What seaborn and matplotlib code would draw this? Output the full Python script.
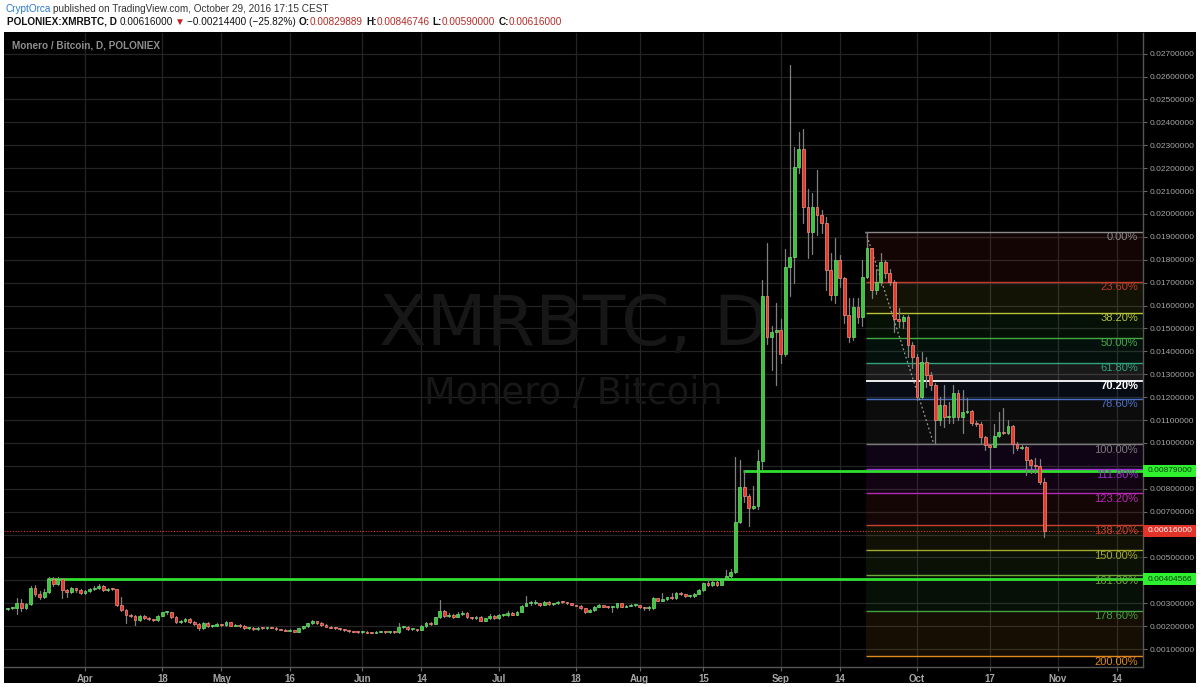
import numpy as np
import pandas as pd
import matplotlib
matplotlib.use("Agg")
import matplotlib.pyplot as plt
import matplotlib.dates as mdates
import matplotlib.transforms as mtransforms
from matplotlib.patches import Rectangle
from matplotlib.ticker import MultipleLocator, FuncFormatter
from matplotlib import font_manager as fm
import seaborn as sns

# ---------------- data (prices in mBTC, daily candles from 2016-03-15) ----------------
START = "2016-03-15"
SCALE = 1e-3

opens = [
    2.74, 2.78, 2.80, 2.99, 2.78, 2.95, 3.68, 3.39, 3.26, 3.47,
    4.05, 3.82, 4.05, 3.58, 3.50, 3.65, 3.56, 3.45, 3.53, 3.62,
    3.68, 3.77, 3.58, 3.62, 3.60, 2.92, 2.70, 2.49, 2.43, 2.27,
    2.46, 2.34, 2.30, 2.27, 2.46, 2.60, 2.60, 2.40, 2.19, 2.22,
    2.31, 2.19, 2.08, 1.90, 2.15, 2.00, 2.02, 2.08, 2.05, 2.16,
    2.02, 2.05, 2.02, 1.90, 1.93, 1.87, 1.93, 1.90, 1.95, 1.93,
    1.86, 1.84, 1.80, 1.83, 1.76, 1.90, 1.99, 2.12, 2.22, 2.13,
    2.05, 1.98, 1.93, 1.90, 1.86, 1.82, 1.77, 1.76, 1.74, 1.75,
    1.72, 1.71, 1.75, 1.76, 1.74, 1.75, 1.73, 1.95, 1.97, 1.86,
    1.86, 1.83, 2.00, 2.15, 2.09, 2.38, 2.67, 2.44, 2.48, 2.41,
    2.53, 2.59, 2.38, 2.34, 2.41, 2.24, 2.34, 2.45, 2.34, 2.48,
    2.48, 2.59, 2.50, 2.62, 2.88, 2.99, 2.99, 2.99, 2.92, 3.07,
    2.96, 2.99, 3.07, 3.04, 2.99, 2.92, 2.89, 2.78, 2.63, 2.70,
    2.85, 2.92, 2.85, 2.82, 2.82, 2.99, 2.85, 2.88, 2.92, 2.92,
    2.82, 2.78, 2.78, 3.21, 3.11, 3.17, 3.26, 3.21, 3.46, 3.39,
    3.31, 3.31, 3.40, 3.58, 3.87, 3.80, 3.94, 3.80, 4.06, 4.19,
    4.35, 6.56, 8.06, 7.68, 7.14, 7.24, 9.22, 16.41, 14.64, 14.86,
    14.93, 13.90, 17.70, 18.13, 22.03, 22.82, 20.29, 19.22, 20.32, 19.95,
    19.59, 17.55, 16.46, 18.00, 17.19, 15.58, 14.61, 15.92, 15.48, 17.26,
    18.50, 16.68, 17.04, 17.91, 17.40, 17.04, 15.40, 15.34, 15.51, 14.28,
    13.77, 11.99, 13.55, 12.97, 12.53, 11.00, 11.66, 11.15, 11.15, 12.17,
    11.12, 11.35, 11.41, 10.88, 10.83, 10.27, 9.91, 9.84, 10.30, 10.49,
    10.42, 10.74, 9.95, 9.76, 9.81, 9.25, 9.04, 8.99, 8.30,
]
highs = [
    2.80, 2.84, 3.24, 3.20, 3.02, 3.75, 3.78, 3.52, 3.60, 4.16,
    4.16, 4.16, 4.08, 3.62, 3.70, 3.68, 3.60, 3.58, 3.66, 3.77,
    3.82, 3.80, 3.66, 3.66, 3.63, 3.29, 2.74, 2.55, 2.47, 2.50,
    2.48, 2.38, 2.33, 2.50, 2.63, 2.66, 2.63, 2.43, 2.26, 2.35,
    2.34, 2.22, 2.12, 2.20, 2.18, 2.06, 2.12, 2.11, 2.21, 2.18,
    2.08, 2.07, 2.04, 1.96, 1.95, 1.96, 1.95, 1.98, 1.97, 1.95,
    1.88, 1.86, 1.86, 1.85, 1.93, 2.02, 2.15, 2.26, 2.24, 2.16,
    2.07, 2.00, 1.95, 1.92, 1.88, 1.84, 1.80, 1.78, 1.78, 1.77,
    1.75, 1.78, 1.79, 1.78, 1.77, 1.77, 2.15, 2.01, 1.99, 1.89,
    1.88, 2.03, 2.18, 2.17, 2.41, 3.14, 2.70, 2.58, 2.55, 2.62,
    2.65, 2.61, 2.40, 2.44, 2.43, 2.37, 2.55, 2.47, 2.51, 2.53,
    2.68, 2.61, 2.65, 2.91, 3.31, 3.10, 3.14, 3.02, 3.10, 3.09,
    3.03, 3.10, 3.09, 3.06, 3.01, 2.94, 2.91, 2.80, 2.73, 2.88,
    2.95, 2.94, 2.87, 2.86, 3.02, 3.01, 2.91, 2.95, 2.95, 2.94,
    2.84, 2.86, 3.25, 3.23, 3.43, 3.29, 3.43, 3.49, 3.50, 3.41,
    3.35, 3.43, 3.62, 3.90, 4.09, 4.09, 3.97, 4.10, 4.45, 4.48,
    9.37, 9.25, 8.82, 7.75, 8.12, 9.69, 17.10, 18.74, 15.10, 16.09,
    15.40, 18.45, 26.50, 22.90, 23.59, 23.69, 21.10, 20.93, 21.92, 20.17,
    19.88, 18.28, 18.93, 18.20, 17.26, 16.31, 16.31, 16.31, 17.99, 19.22,
    18.50, 17.60, 18.30, 18.00, 17.60, 17.10, 15.88, 15.60, 15.60, 14.40,
    13.90, 13.98, 13.77, 13.10, 12.60, 12.02, 12.53, 11.80, 12.53, 12.31,
    12.31, 11.95, 11.44, 10.95, 10.90, 10.30, 9.95, 10.83, 11.37, 11.51,
    11.00, 10.80, 10.02, 9.90, 9.85, 9.30, 9.33, 9.28, 8.47,
]
lows = [
    2.70, 2.74, 2.51, 2.66, 2.74, 2.92, 3.30, 3.18, 3.22, 3.44,
    3.74, 3.78, 3.21, 3.29, 3.45, 3.50, 3.40, 3.42, 3.50, 3.58,
    3.64, 3.52, 3.54, 3.56, 2.88, 2.64, 2.12, 2.38, 2.05, 2.22,
    2.30, 2.26, 2.22, 2.24, 2.42, 2.55, 2.36, 2.14, 2.15, 2.18,
    2.15, 2.04, 1.83, 1.88, 1.96, 1.97, 1.99, 2.01, 2.02, 1.99,
    1.99, 1.98, 1.87, 1.87, 1.84, 1.85, 1.87, 1.88, 1.90, 1.83,
    1.81, 1.77, 1.78, 1.73, 1.74, 1.88, 1.97, 2.10, 2.10, 2.02,
    1.95, 1.90, 1.87, 1.83, 1.79, 1.74, 1.73, 1.71, 1.72, 1.69,
    1.68, 1.70, 1.73, 1.72, 1.72, 1.71, 1.72, 1.92, 1.84, 1.83,
    1.80, 1.81, 1.98, 2.05, 2.07, 2.35, 2.38, 2.40, 2.37, 2.39,
    2.50, 2.35, 2.29, 2.32, 2.21, 2.22, 2.32, 2.31, 2.32, 2.45,
    2.46, 2.47, 2.48, 2.60, 2.86, 2.94, 2.95, 2.89, 2.90, 2.93,
    2.94, 2.97, 3.01, 2.96, 2.90, 2.86, 2.75, 2.58, 2.60, 2.68,
    2.83, 2.82, 2.79, 2.63, 2.80, 2.82, 2.83, 2.86, 2.89, 2.79,
    2.70, 2.70, 2.76, 3.08, 3.09, 3.15, 3.18, 3.19, 3.36, 3.28,
    3.27, 3.29, 3.38, 3.55, 3.76, 3.77, 3.76, 3.78, 4.04, 4.15,
    4.30, 6.49, 7.43, 6.37, 7.10, 7.10, 8.85, 14.30, 13.20, 12.53,
    13.50, 13.80, 16.40, 17.00, 21.80, 19.59, 18.06, 18.25, 19.08, 19.15,
    16.68, 16.24, 16.10, 16.80, 15.22, 14.42, 14.50, 15.22, 15.10, 17.20,
    16.31, 16.50, 16.90, 17.20, 16.90, 14.86, 15.05, 15.00, 13.77, 13.26,
    11.87, 11.95, 12.46, 12.31, 9.95, 10.78, 10.71, 10.86, 10.86, 11.00,
    10.42, 11.30, 10.80, 10.75, 10.01, 9.69, 8.89, 9.80, 10.25, 10.38,
    10.38, 9.54, 9.70, 9.72, 8.60, 8.67, 8.67, 8.20, 5.90,
]
closes = [
    2.78, 2.80, 2.99, 2.78, 2.95, 3.68, 3.39, 3.26, 3.47, 4.05,
    3.82, 4.05, 3.58, 3.50, 3.65, 3.56, 3.45, 3.53, 3.62, 3.68,
    3.77, 3.58, 3.62, 3.60, 2.92, 2.70, 2.49, 2.43, 2.27, 2.46,
    2.34, 2.30, 2.27, 2.46, 2.60, 2.60, 2.40, 2.19, 2.22, 2.31,
    2.19, 2.08, 1.90, 2.15, 2.00, 2.02, 2.08, 2.05, 2.16, 2.02,
    2.05, 2.02, 1.90, 1.93, 1.87, 1.93, 1.90, 1.95, 1.93, 1.86,
    1.84, 1.80, 1.83, 1.76, 1.90, 1.99, 2.12, 2.22, 2.13, 2.05,
    1.98, 1.93, 1.90, 1.86, 1.82, 1.77, 1.76, 1.74, 1.75, 1.72,
    1.71, 1.75, 1.76, 1.74, 1.75, 1.73, 1.95, 1.97, 1.86, 1.86,
    1.83, 2.00, 2.15, 2.09, 2.38, 2.67, 2.44, 2.48, 2.41, 2.53,
    2.59, 2.38, 2.34, 2.41, 2.24, 2.34, 2.45, 2.34, 2.48, 2.48,
    2.59, 2.50, 2.62, 2.88, 2.99, 2.99, 2.99, 2.92, 3.07, 2.96,
    2.99, 3.07, 3.04, 2.99, 2.92, 2.89, 2.78, 2.63, 2.70, 2.85,
    2.92, 2.85, 2.82, 2.82, 2.99, 2.85, 2.88, 2.92, 2.92, 2.82,
    2.78, 2.78, 3.21, 3.11, 3.17, 3.26, 3.21, 3.46, 3.39, 3.31,
    3.31, 3.40, 3.58, 3.87, 3.80, 3.94, 3.80, 4.06, 4.19, 4.35,
    6.56, 8.06, 7.68, 7.14, 7.24, 9.22, 16.41, 14.64, 14.86, 14.93,
    13.90, 17.70, 18.13, 22.03, 22.82, 20.29, 19.22, 20.32, 19.95, 19.59,
    17.55, 16.46, 18.00, 17.19, 15.58, 14.61, 15.92, 15.48, 17.26, 18.50,
    16.68, 17.04, 17.91, 17.40, 17.04, 15.40, 15.34, 15.51, 14.28, 13.77,
    11.99, 13.55, 12.97, 12.53, 11.00, 11.66, 11.15, 11.15, 12.17, 11.12,
    11.35, 11.41, 10.88, 10.83, 10.27, 9.91, 9.84, 10.30, 10.49, 10.42,
    10.74, 9.95, 9.76, 9.81, 9.25, 9.04, 8.99, 8.30, 6.16,
]
assert len(opens) == len(highs) == len(lows) == len(closes) == 229

tick_dates = ["2016-04-01", "2016-04-18", "2016-05-01", "2016-05-16", "2016-06-01",
              "2016-06-14", "2016-07-01", "2016-07-18", "2016-08-01", "2016-08-15",
              "2016-09-01", "2016-09-14", "2016-10-01", "2016-10-17", "2016-11-01",
              "2016-11-14"]
tick_labels = ["Apr", "18", "May", "16", "Jun", "14", "Jul", "18", "Aug", "15",
               "Sep", "14", "Oct", "17", "Nov", "14"]
# price-axis labels hidden behind the coloured price tags
hidden_price_ticks = [0.004, 0.006, 0.009]

# Fibonacci retracement / extension (swing high and swing low, mBTC)
fib_high, fib_low = 19.22, 9.95
fib_high_date, fib_low_date = "2016-09-20", "2016-10-05"
fib_ratios = [0.0, 0.236, 0.382, 0.5, 0.618, 0.702, 0.786, 1.0, 1.118, 1.232,
              1.382, 1.5, 1.618, 1.786, 2.0]
fib_colors = ["#8a8a8a", "#c0392b", "#b9c43a", "#44a844", "#2fa37a", "#ffffff",
              "#4a72c4", "#7a7a7a", "#9a2fd0", "#b62ab6", "#c8402f", "#a3a82c",
              "#6fa838", "#43a043", "#e08a1e"]

support_levels = [4.04566, 8.79]
support_starts = ["2016-03-23 16:00", "2016-08-23 16:00"]
last_price = 6.16

# ---------------- style ----------------
sns.set_theme(style="dark", rc={"axes.facecolor": "black", "figure.facecolor": "white"})
avail = {f.name for f in fm.fontManager.ttflist}
SANS = "Liberation Sans" if "Liberation Sans" in avail else "DejaVu Sans"
plt.rcParams["font.family"] = [SANS, "DejaVu Sans"]

W, H = 1200, 687
fig = plt.figure(figsize=(W / 100, H / 100), dpi=100, facecolor="white")


def fx(px):
    return px / W


def fy(py):
    return 1 - py / H


fig.add_artist(Rectangle((fx(4), fy(683)), fx(1196) - fx(4), fy(32) - fy(683),
                         transform=fig.transFigure, facecolor="black",
                         edgecolor="none", zorder=-5))

ax = fig.add_axes([fx(4), fy(667), fx(1143) - fx(4), fy(33) - fy(667)])
ax.set_facecolor("black")

dates = pd.date_range(START, periods=len(closes), freq="D")
x = mdates.date2num(dates.to_pydatetime())
apr1 = mdates.date2num(pd.Timestamp("2016-04-01").to_pydatetime())
x_left, x_right = apr1 - 17.83, apr1 + 232.7
y_low, y_high = 0.214 * SCALE, 27.90 * SCALE
px_y = (y_high - y_low) / 634.0

o = np.array(opens) * SCALE
h = np.array(highs) * SCALE
l = np.array(lows) * SCALE
c = np.array(closes) * SCALE

# watermark
ax.text(0.5, 0.539, "XMRBTC, D", transform=ax.transAxes, ha="center", va="center",
        fontsize=50, color="#171717", family="DejaVu Sans", zorder=0.6)
ax.text(0.5, 0.432, "Monero / Bitcoin", transform=ax.transAxes, ha="center", va="center",
        fontsize=26.5, color="#171717", family="DejaVu Sans", zorder=0.6)

# fibonacci zones
fib_x0 = mdates.date2num(pd.Timestamp(fib_high_date).to_pydatetime()) - 0.3
levels = [(fib_high - r * (fib_high - fib_low)) * SCALE for r in fib_ratios]
blend = mtransforms.blended_transform_factory(ax.transAxes, ax.transData)
for i in range(1, len(levels)):
    ax.fill_between([fib_x0, x_right], levels[i], levels[i - 1], color=fib_colors[i],
                    alpha=0.10, linewidth=0, zorder=1)
for lev, r, col in zip(levels, fib_ratios, fib_colors):
    ax.hlines(lev, fib_x0, x_right, color=col, lw=1.3 if r == 0.702 else 1.0, zorder=2)
    ax.text((1138 - 4) / 1139, lev - 5.5 * px_y, f"{r * 100:.2f}%", transform=blend,
            ha="right", va="center", fontsize=8, color=col, family=SANS,
            fontweight="bold" if r == 0.702 else "normal", zorder=6)

# trend line of the fib tool
ax.plot([fib_x0, mdates.date2num(pd.Timestamp(fib_low_date).to_pydatetime()) - 0.3],
        [fib_high * SCALE, fib_low * SCALE], color="#9a9a9a", lw=0.9,
        ls=(0, (1.5, 2)), zorder=3)

# support lines
for lev, st in zip(support_levels, support_starts):
    ax.hlines(lev * SCALE, mdates.date2num(pd.Timestamp(st).to_pydatetime()), x_right,
              color="#2fe02f", lw=2.0, zorder=3.5)
ax.axhline(last_price * SCALE, color="#e0392b", lw=0.8, ls=(0, (1, 1.5)), zorder=3.5)

# wicks (seaborn)
wick_df = pd.DataFrame({
    "x": np.repeat(x, 2),
    "price": np.column_stack([l, h]).ravel(),
    "candle": np.repeat(np.arange(len(x)), 2),
})
sns.lineplot(data=wick_df, x="x", y="price", units="candle", estimator=None, sort=False,
             color="#808080", linewidth=0.9, ax=ax, legend=False, zorder=4)

# bodies
up = c >= o
bottom = np.minimum(o, c)
height = np.maximum(np.abs(c - o), 1.0 * px_y)
ax.bar(x[up], height[up], bottom=bottom[up], width=0.62, color="#3ec43e",
       edgecolor="#6ee06e", linewidth=0.5, zorder=5)
ax.bar(x[~up], height[~up], bottom=bottom[~up], width=0.62, color="#e5392c",
       edgecolor="#f49080", linewidth=0.5, zorder=5)

# axes / grid
ax.set_xlim(x_left, x_right)
ax.set_ylim(y_low, y_high)
ax.set_xlabel("")
ax.set_ylabel("")
ax.set_xticks([mdates.date2num(pd.Timestamp(d).to_pydatetime()) for d in tick_dates])
ax.set_xticklabels(tick_labels)
ax.yaxis.tick_right()
ax.yaxis.set_major_locator(MultipleLocator(0.001))


def price_fmt(v, p):
    if v < 0.0005 or any(abs(v - hv) < 1e-7 for hv in hidden_price_ticks):
        return ""
    return f"{v:.8f}"


ax.yaxis.set_major_formatter(FuncFormatter(price_fmt))
ax.grid(True, color="#242424", lw=0.9)
ax.set_axisbelow(True)
for s in ["left", "top"]:
    ax.spines[s].set_visible(False)
for s in ["right", "bottom"]:
    ax.spines[s].set_color("#555555")
    ax.spines[s].set_linewidth(1.0)
ax.tick_params(axis="y", which="both", right=True, left=False, length=3, width=0.8,
               color="#666666", labelcolor="#a6a6a6", labelsize=6, pad=2,
               labelfontfamily=SANS)
ax.tick_params(axis="x", bottom=True, length=3, width=0.8, color="#666666",
               labelcolor="#a6a6a6", labelsize=7, pad=2, labelfontfamily=SANS)
for lbl in ax.get_xticklabels():
    lbl.set_fontweight("bold")

# price tags on the axis
tag_w = 53 / 1139
tag_h = 12 * px_y
for val, fc, tc in [(8.79, "#2ef02e", "#0b3a0b"), (4.04566, "#2ef02e", "#0b3a0b"),
                    (last_price, "#e23328", "white")]:
    ax.add_patch(Rectangle((1.0, val * SCALE - tag_h / 2), tag_w, tag_h, transform=blend,
                           facecolor=fc, edgecolor="none", clip_on=False, zorder=8))
    ax.text(1.0 + 5 / 1139, val * SCALE, f"{val * SCALE:.8f}", transform=blend,
            ha="left", va="center", fontsize=6, color=tc, family=SANS,
            clip_on=False, zorder=9)

# chart title inside pane
fig.text(fx(12), fy(45), "Monero / Bitcoin, D, POLONIEX", color="#8f8f8f", fontsize=7.2,
         fontweight="bold", va="center", ha="left", family=SANS)

# header lines
renderer = fig.canvas.get_renderer()


def run(x0, y0, parts, size):
    xx = x0
    for txt, col, wt, gap in parts:
        t = fig.text(fx(xx), fy(y0), txt, color=col, fontsize=size, fontweight=wt,
                     va="center", ha="left", family=[SANS, "DejaVu Sans"])
        xx += t.get_window_extent(renderer=renderer).width + gap


run(5, 9, [("CryptOrca", "#2b7bcf", "normal", 3),
           ("published on TradingView.com, October 29, 2016 17:15 CEST", "#333333", "normal", 0)],
    7.2)
red = "#b52b25"
run(7, 22, [("POLONIEX:XMRBTC, D", "#111111", "bold", 3),
            ("0.00616000", "#111111", "normal", 2),
            ("▼", "#c81e1e", "normal", 2),
            ("\u22120.00214400 (\u221225.82%)", "#111111", "normal", 3),
            ("O:", "#111111", "bold", 0), ("0.00829889", red, "normal", 3),
            ("H:", "#111111", "bold", 0), ("0.00846746", red, "normal", 3),
            ("L:", "#111111", "bold", 0), ("0.00590000", red, "normal", 3),
            ("C:", "#111111", "bold", 0), ("0.00616000", red, "normal", 0)],
    7.2)

fig.savefig("out.png", dpi=100, facecolor="white")
